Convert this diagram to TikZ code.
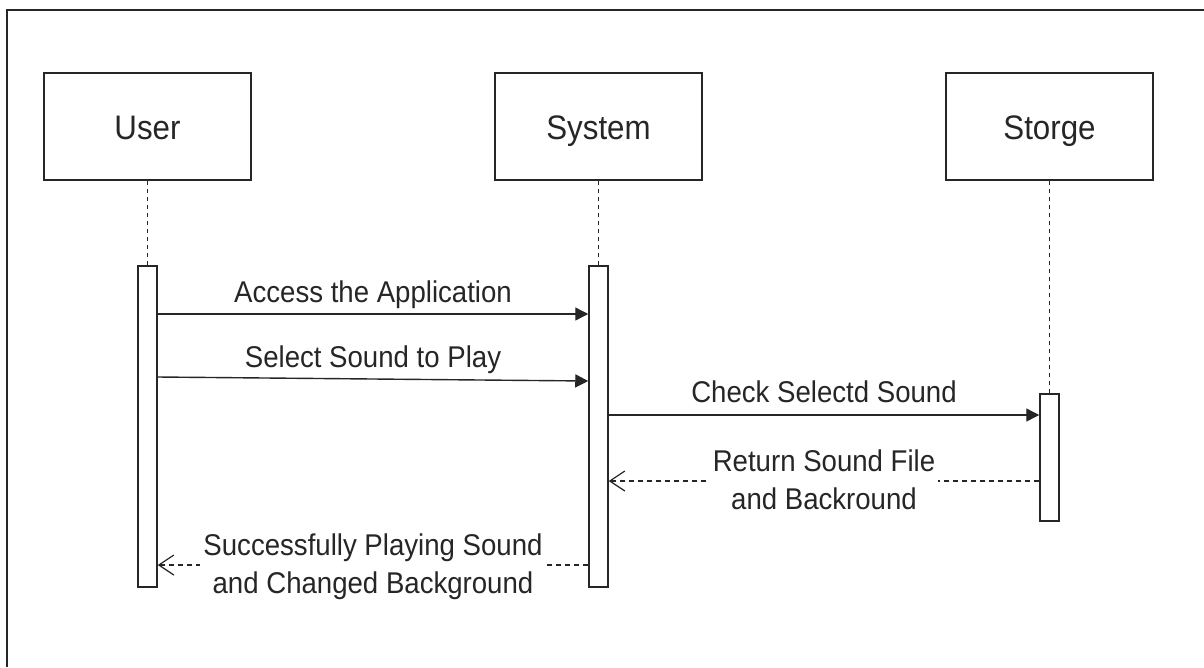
\documentclass[tikz,border=0pt]{standalone}
\usepackage{fontspec}
\setmainfont{Liberation Sans}
\newfontfamily\narrowsans[FakeStretch=0.92]{Liberation Sans}
\usetikzlibrary{arrows.meta}

\begin{document}
\begin{tikzpicture}[x=1pt,y=-1pt,
  frame/.style={line width=2pt,draw=black!85},
  head/.style={draw=black!85,line width=1.6pt,minimum width=207pt,minimum height=107pt,
               inner sep=0pt,text height=25pt,text depth=0pt,
               font=\narrowsans\fontsize{34}{40}\selectfont,text=black!85},
  actbar/.style={draw=black!85,line width=1.5pt,minimum width=19pt,inner sep=0pt,fill=white},
  life/.style={draw=black!85,line width=1.2pt,dash pattern=on 4pt off 4pt},
  call/.style={draw=black!85,line width=1.4pt,-{Triangle[length=13pt,width=13pt]}},
  reply/.style={draw=black!85,line width=1.2pt,dash pattern=on 5pt off 4pt,
                -{Straight Barb[length=15pt,width=20pt,line width=1.2pt]}},
  lbl/.style={font=\narrowsans\fontsize{30}{38.5}\selectfont,text=black!85,inner sep=0pt},
  rlbl/.style={lbl,fill=white,align=center,inner xsep=3pt,inner ysep=0pt}
]
\useasboundingbox (0,0) rectangle (1204,667);

% outer frame
\draw[frame] (7,667) -- (7,10) -- (1204,10);

% participants
\node[head] (user) at (147.5,126.5) {User};
\node[head] (sys)  at (598.5,126.5) {System};
\node[head] (sto)  at (1049.5,126.5) {Storge};

% activation bars
\node[actbar,minimum height=321pt] (ubar) at (147.5,426.5) {};
\node[actbar,minimum height=321pt] (sbar) at (598.5,426.5) {};
\node[actbar,minimum height=127pt] (stbar) at (1049.5,457.5) {};

% lifelines
\draw[life] (user.south) -- (ubar.north);
\draw[life] (sys.south) -- (sbar.north);
\draw[life] (sto.south) -- (stbar.north);

% message rows
\coordinate (r1) at (0,314);
\coordinate (r2a) at (0,377);
\coordinate (r2b) at (0,381);
\coordinate (r3) at (0,415);
\coordinate (r4) at (0,481);
\coordinate (r5) at (0,565);

% messages
\draw[call] (ubar.east |- r1) -- node[lbl,anchor=base,yshift=12pt] {Access the Application} (sbar.west |- r1);
\draw[call] (ubar.east |- r2a) -- node[lbl,anchor=base,yshift=12pt] {Select Sound to Play} (sbar.west |- r2b);
\draw[call] (sbar.east |- r3) -- node[lbl,anchor=base,yshift=13pt] {Check Selectd Sound} (stbar.west |- r3);
\draw[reply] (stbar.west |- r4) -- node[rlbl,yshift=1pt] {Return Sound File\\and Backround} (sbar.east |- r4);
\draw[reply] (sbar.west |- r5) -- node[rlbl,yshift=-1.5pt] {Successfully Playing Sound\\and Changed Background} (ubar.east |- r5);
\end{tikzpicture}
\end{document}
